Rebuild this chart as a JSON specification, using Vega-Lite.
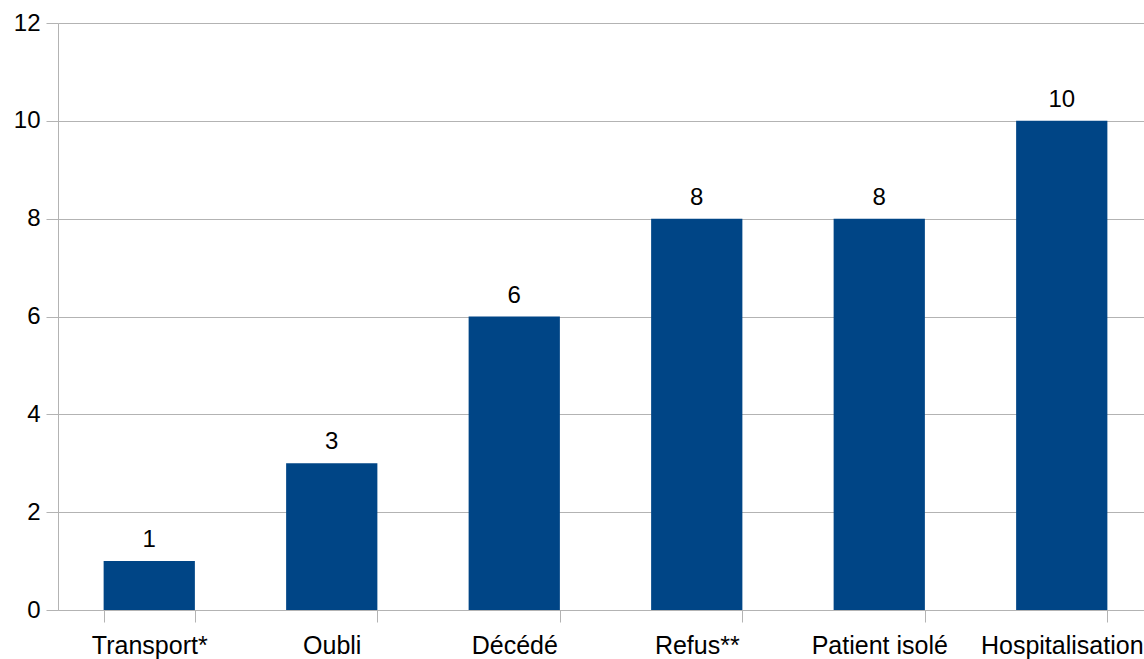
{
  "$schema": "https://vega.github.io/schema/vega-lite/v6.json",
  "autosize": {"type": "none"},
  "padding": {"left": 58, "top": 23, "right": 0, "bottom": 49},
  "width": 1095,
  "height": 587,
  "background": "white",
  "config": {
    "view": {"stroke": null},
    "font": "Liberation Sans",
    "axis": {
      "labelFont": "Liberation Sans",
      "labelFontSize": 24,
      "labelColor": "#000000",
      "domainColor": "#b3b3b3",
      "tickColor": "#b3b3b3",
      "gridColor": "#b3b3b3",
      "tickSize": 12,
      "title": null
    }
  },
  "data": {
    "values": [
      {"motif": "Transport*", "n": 1},
      {"motif": "Oubli", "n": 3},
      {"motif": "Décédé", "n": 6},
      {"motif": "Refus**", "n": 8},
      {"motif": "Patient isolé", "n": 8},
      {"motif": "Hospitalisation", "n": 10}
    ]
  },
  "encoding": {
    "x": {
      "field": "motif",
      "type": "nominal",
      "sort": null,
      "scale": {"paddingInner": 0.5, "paddingOuter": 0.25},
      "axis": {
        "labelAngle": 0,
        "labelFontSize": 25,
        "tickBand": "extent",
        "labelPadding": 11,
        "labelOverlap": false,
        "grid": false
      }
    },
    "y": {
      "field": "n",
      "type": "quantitative",
      "scale": {"domain": [0, 12], "nice": false},
      "axis": {
        "values": [0, 2, 4, 6, 8, 10, 12],
        "grid": true,
        "labelPadding": 6
      }
    }
  },
  "layer": [
    {"mark": {"type": "bar", "color": "#004586"}},
    {
      "mark": {
        "type": "text",
        "baseline": "alphabetic",
        "dy": -14,
        "fontSize": 24,
        "color": "#000000"
      },
      "encoding": {"text": {"field": "n", "type": "quantitative"}}
    }
  ]
}
